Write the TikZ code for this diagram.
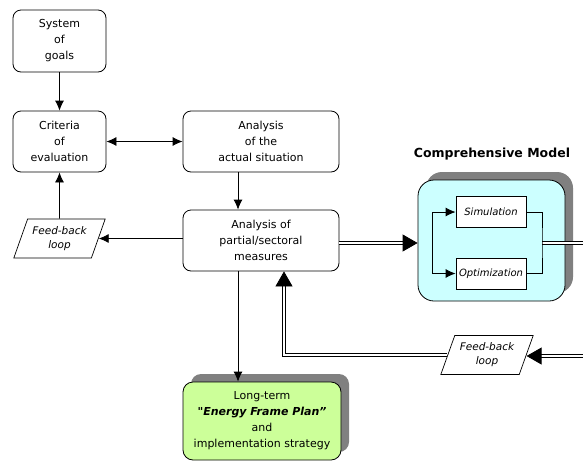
\documentclass[tikz,border=0pt]{standalone}
\usepackage{fontspec}
\setmainfont{DejaVu Sans}
\usepackage{tikz}
\usetikzlibrary{shapes.geometric, arrows.meta, positioning, shadows}

\definecolor{modelcyan}{RGB}{204,255,255}
\definecolor{plangreen}{RGB}{204,255,153}
\definecolor{shadegray}{RGB}{128,128,128}

\tikzstyle{box}   = [draw, rounded corners=8pt, align=center, line width=0.8pt,
                     font=\fontsize{11}{16}\selectfont, inner sep=2pt]
\tikzstyle{small} = [draw, align=center, line width=0.8pt, fill=white,
                     font=\fontsize{10}{13}\selectfont\itshape, inner sep=1pt]
\tikzstyle{fb}    = [draw, trapezium, trapezium left angle=65, trapezium right angle=115,
                     trapezium stretches=true, align=center, line width=0.7pt,
                     font=\fontsize{10.5}{14}\selectfont\itshape, inner sep=1pt]
\tikzstyle{shade} = [drop shadow={shadow xshift=8pt, shadow yshift=8pt, fill=shadegray, opacity=1}]
\tikzstyle{arr}   = [draw, line width=0.8pt, -{Latex[length=10pt, width=9pt]}]
\tikzstyle{arrs}  = [draw, line width=0.8pt, {Latex[length=10pt, width=9pt]}-{Latex[length=10pt, width=9pt]}]
\tikzstyle{dbl}   = [draw, double, double distance=1.6pt, line width=0.8pt]
\tikzstyle{dblarr}= [dbl, -{Triangle[length=15pt, width=17pt]}]

\begin{document}
\begin{tikzpicture}[x=1pt, y=-1pt]

\useasboundingbox (0,0) rectangle (583,461);

% nodes
\node [box, minimum width=93pt, minimum height=62pt]  at ( 59.5,  41  ) (goals)    {System\\of\\goals};
\node [box, minimum width=93pt, minimum height=61pt]  at ( 59.5, 141.5) (criteria) {Criteria\\of\\evaluation};
\node [box, minimum width=156pt, minimum height=61pt] at (261  , 141.5) (actual)   {Analysis\\of the\\actual situation};
\node [box, minimum width=156pt, minimum height=61pt] at (261  , 240.5) (partial)  {Analysis of\\partial/sectoral\\measures};
\node [fb, minimum width=92pt, minimum height=39pt]   at ( 59.5, 238.5) (fbl)      {Feed-back\\loop};
\node [fb, minimum width=93pt, minimum height=39pt]   at (487  , 355  ) (fbr)      {Feed-back\\loop};

\node [box, shade, fill=modelcyan, rounded corners=16pt,
       minimum width=147pt, minimum height=121pt]     at (491.5, 240.5) (model)    {};
\node [font=\fontsize{12.5}{14}\selectfont\bfseries]  at (492  , 154  ) (title)    {Comprehensive Model};
\node [small, minimum width=70pt, minimum height=31pt] at (491 , 212  ) (sim)      {Simulation};
\node [small, minimum width=70pt, minimum height=31pt] at (491 , 273.5) (opt)      {Optimization};

\node [box, shade, fill=plangreen, rounded corners=10pt,
       minimum width=158pt, minimum height=78pt]      at (262  , 421  ) (plan)
      {Long-term\\\textbf{\textit{\textquotedbl Energy Frame Plan”}}\\and\\implementation strategy};

\coordinate (loopL) at (432, 243);
\coordinate (loopR) at (542, 243);
\coordinate (outR)  at (583, 243);
\coordinate (inR)   at (583, 356);

% edges
\draw [arr]  (goals)   -- (criteria);
\draw [arr]  (fbl)     -- (criteria);
\draw [arr]  (partial.west |- fbl.east) -- (fbl.east);
\draw [arr]  ([xshift=-23pt]actual.south)  -- ([xshift=-23pt]partial.north);
\draw [arr]  ([xshift=-23pt]partial.south) -- ([xshift=-23pt]partial.south |- plan.north);
\draw [arrs] (criteria) -- (actual);

\draw [dblarr] (partial.east |- loopR) -- (model.west |- loopR);
\draw [dblarr] (inR) -- (inR -| fbr.east);
\draw [dblarr] (fbr.west) -| ([xshift=23pt]partial.south);
\draw [dbl]    (loopR) -- (outR);

% loop inside the model
\draw [line width=0.8pt] (sim.west -| loopL) -- (opt.west -| loopL);
\draw [arr] (sim.west -| loopL) -- (sim.west);
\draw [arr] (opt.west -| loopL) -- (opt.west);
\draw [line width=0.8pt] (sim.east) -| (loopR) |- (opt.east);

\end{tikzpicture}
\end{document}
